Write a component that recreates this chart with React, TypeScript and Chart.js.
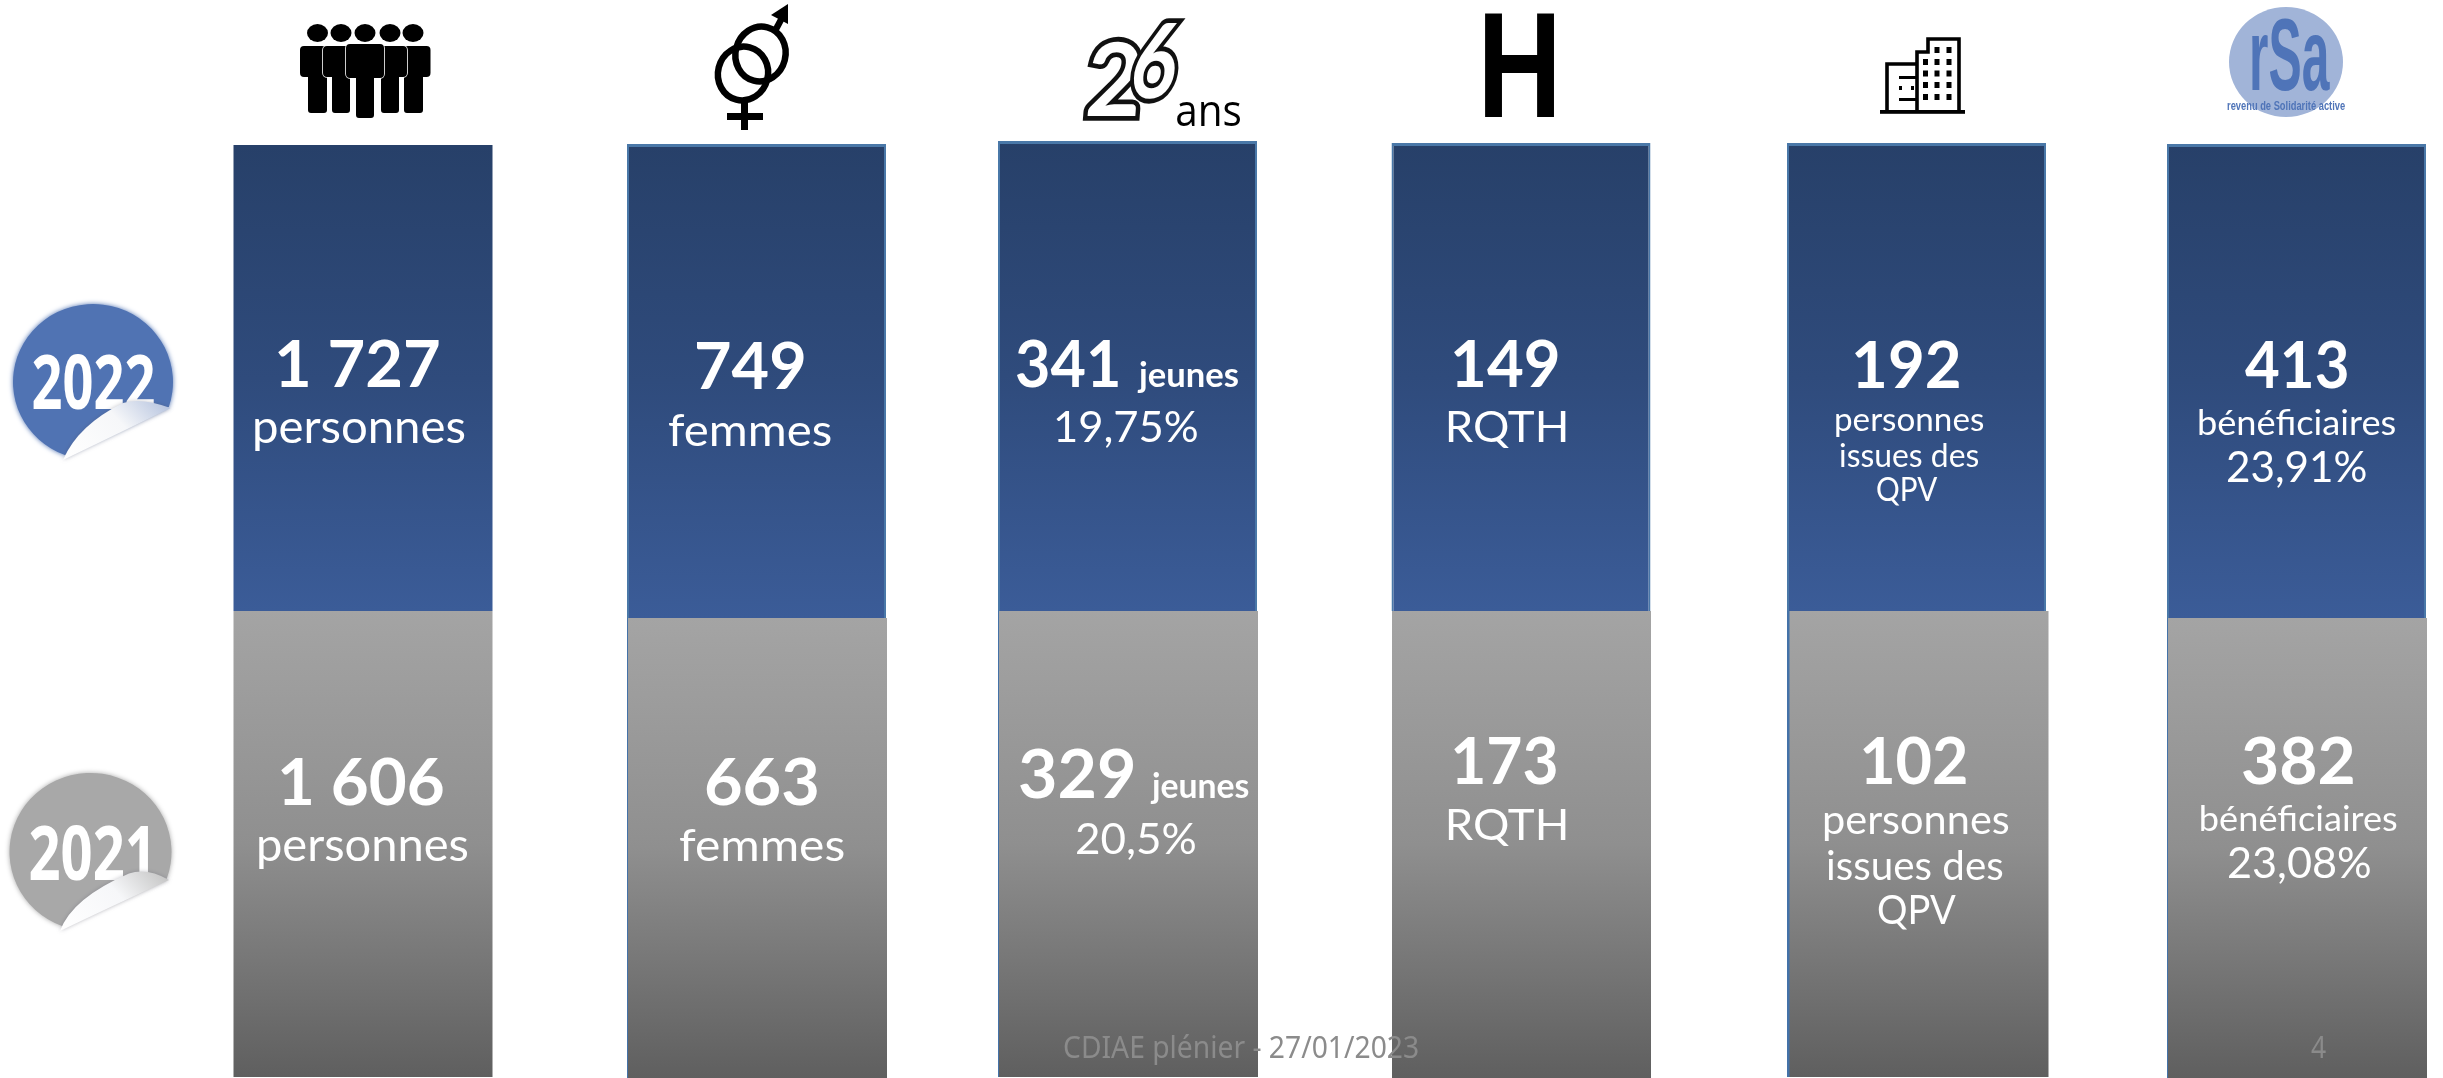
import React, { useEffect, useRef } from "react";
import { Chart, registerables } from "chart.js";

Chart.register(...registerables);

// ---------- data ----------
const categories = ["personnes", "femmes", "jeunes", "RQTH", "QPV", "rSa"];
const values2022 = [1727, 749, 341, 149, 192, 413];
const values2021 = [1606, 663, 329, 173, 102, 382];
const captions2022 = [
  ["personnes"],
  ["femmes"],
  ["jeunes", "19,75%"],
  ["RQTH"],
  ["personnes", "issues des", "QPV"],
  ["bénéficiaires", "23,91%"],
];
const captions2021 = [
  ["personnes"],
  ["femmes"],
  ["jeunes", "20,5%"],
  ["RQTH"],
  ["personnes", "issues des", "QPV"],
  ["bénéficiaires", "23,08%"],
];
// Position of each column and extent of each band, in axis units
const columns2022 = [363, 756.5, 1127.5, 1521, 1916.5, 2296.5];
const columns2021 = [363, 757.5, 1128.5, 1521.5, 1919, 2297.5];
const bandTop2022 = [145, 144, 141, 143, 143, 144];
const bandSplit = [611, 618, 611, 611, 611, 618];
const bandBottom = [1077, 1078, 1077, 1078, 1077, 1078];
const edgeVisible2022 = [false, true, true, true, true, true];
const edgeVisibleBelow = [false, true, true, false, true, true];

const BAR_WIDTH = 259;
const WIDTH = 2443;
const HEIGHT = 1078;
const LIGHT = 400;

// ---------- text layout: [inkLeft, inkRight, baseline, size, weight] ----------
const numberLayout2022 = [
  [278, 439, 387, 65], [697, 804, 389, 65], [1017, 1118, 387, 65],
  [1454, 1558, 387, 65], [1855, 1959, 388, 65], [2245, 2347, 388, 65],
];
const numberLayout2021 = [
  [281, 443, 805, 65], [706, 817, 805, 65], [1020, 1133, 798, 66],
  [1454, 1556, 784, 65], [1863, 1966, 784, 65], [2243, 2353, 784, 65],
];
const captionLayout2022 = [
  [[255, 465, 442.5, 46, LIGHT]],
  [[669, 831, 446, 44, LIGHT]],
  [[1137, 1238, 387, 34, 700], [1056, 1197, 442, 42, LIGHT]],
  [[1448, 1566, 442, 42, LIGHT]],
  [[1836, 1983, 431, 33, LIGHT], [1840, 1978, 466.5, 33, LIGHT], [1877, 1938, 501, 33, LIGHT]],
  [[2199, 2395, 434.5, 35, LIGHT], [2228, 2366, 482, 43, LIGHT]],
];
const captionLayout2021 = [
  [[259, 468, 861, 46, LIGHT]],
  [[680, 844, 861, 44, LIGHT]],
  [[1150, 1249, 798, 35, 700], [1076, 1195, 854, 42, LIGHT]],
  [[1448, 1566, 840, 42, LIGHT]],
  [[1824, 2009, 834, 41, LIGHT], [1828, 2003, 880, 41, LIGHT], [1878, 1956, 924, 41, LIGHT]],
  [[2201, 2397, 831, 34, LIGHT], [2228, 2370, 878, 42, LIGHT]],
];

const fmt = (n: number) => {
  const s = String(n);
  return s.length > 3 ? s.slice(0, s.length - 3) + " " + s.slice(-3) : s;
};

function fitText(ctx: any, text: string, left: number, right: number, base: number, font: string, color: string) {
  ctx.save();
  ctx.font = font;
  ctx.fillStyle = color;
  ctx.textAlign = "left";
  ctx.textBaseline = "alphabetic";
  const m = ctx.measureText(text);
  const ink = m.actualBoundingBoxLeft + m.actualBoundingBoxRight;
  const sx = (right - left) / ink;
  ctx.translate(left + m.actualBoundingBoxLeft * sx, base);
  ctx.scale(sx, 1);
  ctx.fillText(text, 0, 0);
  ctx.restore();
}

function sticker(ctx: any, o: any) {
  ctx.save();
  ctx.shadowColor = o.color;
  ctx.shadowBlur = 5;
  ctx.fillStyle = o.color;
  ctx.beginPath();
  ctx.ellipse(o.cx, o.cy, o.rx, o.ry, 0, o.a1, o.a2, true);
  ctx.closePath();
  ctx.fill();
  ctx.restore();
  fitText(ctx, o.year, o.tx0, o.tx1, o.tb, "700 75px 'Open Sans'", "#ffffff");
  const [p1, p2, p3, p4] = o.flap;
  const g = ctx.createLinearGradient(p2[0], p2[1], p1[0] - 25, p1[1] - 25);
  g.addColorStop(0, "#ffffff");
  g.addColorStop(0.6, "#f6f7f9");
  g.addColorStop(1, o.flapShade);
  ctx.save();
  ctx.shadowColor = "rgba(70,70,90,0.3)";
  ctx.shadowBlur = 4;
  ctx.fillStyle = g;
  ctx.beginPath();
  ctx.moveTo(p1[0], p1[1]);
  ctx.quadraticCurveTo(p3[0] + 18, p3[1] - 6, p3[0], p3[1]);
  ctx.quadraticCurveTo(p4[0] - 8, p4[1] + 5, p2[0], p2[1]);
  ctx.quadraticCurveTo(p2[0] + 50, p2[1] - 24, p1[0], p1[1]);
  ctx.closePath();
  ctx.fill();
  ctx.restore();
}

function peopleIcon(ctx: any) {
  ctx.save();
  ctx.fillStyle = "#000";
  const figure = (hx: number, hy: number, hr: number, t0: number, t1: number, ty: number, tb: number, l0: number, l1: number, lb: number) => {
    ctx.beginPath();
    ctx.ellipse(hx, hy, hr, 9, 0, 0, Math.PI * 2);
    ctx.fill();
    ctx.strokeStyle = "#fff";
    ctx.lineWidth = 1.6;
    ctx.beginPath();
    ctx.roundRect(t0, ty, t1 - t0, tb - ty, 4);
    ctx.roundRect(l0, tb - 6, l1 - l0, lb - tb + 6, 3);
    ctx.stroke();
    ctx.fill();
    ctx.beginPath();
    ctx.rect(l0 + 0.8, tb - 6, l1 - l0 - 1.6, 9);
    ctx.fill();
  };
  figure(317.5, 33, 10.5, 300, 326, 46, 77, 308, 327, 113);
  figure(413, 33, 10.5, 404, 430.5, 46, 77, 404, 423, 113);
  figure(341, 33, 10.5, 323, 351, 46, 77, 332, 350, 113);
  figure(390, 33, 10.5, 380, 407, 46, 77, 381, 399, 113);
  figure(365, 33, 10.5, 346, 384, 44, 78, 356, 374, 118);
  ctx.restore();
}

function genderIcon(ctx: any) {
  ctx.save();
  ctx.strokeStyle = "#000";
  ctx.fillStyle = "#000";
  ctx.lineWidth = 6.5;
  ctx.beginPath();
  ctx.ellipse(760.5, 54, 25, 27.5, 0.25, 0, Math.PI * 2);
  ctx.stroke();
  ctx.beginPath();
  ctx.ellipse(743, 73.5, 25, 27, 0.25, 0, Math.PI * 2);
  ctx.stroke();
  ctx.beginPath();
  ctx.moveTo(775, 31);
  ctx.lineTo(783, 16);
  ctx.stroke();
  ctx.beginPath();
  ctx.moveTo(788, 4);
  ctx.lineTo(788, 24);
  ctx.lineTo(771, 15);
  ctx.closePath();
  ctx.fill();
  ctx.fillRect(741, 100, 7, 30);
  ctx.fillRect(727, 113, 36, 7);
  ctx.restore();
}

function twentySixIcon(ctx: any) {
  ctx.save();
  ctx.lineJoin = "miter";
  ctx.font = "700 96px Lato";
  ctx.textBaseline = "alphabetic";
  ctx.strokeStyle = "#111";
  ctx.lineWidth = 9;
  ctx.fillStyle = "#fff";
  ctx.save();
  ctx.transform(1, 0, -0.08, 1.06, 1084, 116);
  ctx.strokeText("2", 0, 0);
  ctx.fillText("2", 0, 0);
  ctx.restore();
  ctx.save();
  ctx.transform(0.82, 0, -0.18, 1.08, 1127, 98);
  ctx.strokeText("6", 0, 0);
  ctx.fillText("6", 0, 0);
  ctx.restore();
  ctx.restore();
  fitText(ctx, "ans", 1177, 1240, 126, "400 44px 'Open Sans'", "#000");
}

function buildingIcon(ctx: any) {
  ctx.save();
  ctx.fillStyle = "#000";
  ctx.strokeStyle = "#000";
  ctx.lineWidth = 3.6;
  ctx.lineJoin = "miter";
  ctx.fillRect(1880, 110, 85, 3.8);
  ctx.beginPath();
  ctx.moveTo(1887, 110);
  ctx.lineTo(1887, 64);
  ctx.lineTo(1917, 64);
  ctx.moveTo(1917, 110);
  ctx.lineTo(1917, 52);
  ctx.lineTo(1928, 52);
  ctx.lineTo(1928, 39);
  ctx.lineTo(1959, 39);
  ctx.lineTo(1959, 110);
  ctx.stroke();
  const rows = [62, 73.5, 85, 97];
  const cols = [1925.5, 1937, 1949];
  rows.forEach((y) => cols.forEach((x) => ctx.fillRect(x - 2.5, y - 3, 5, 6)));
  [1937, 1949].forEach((x) => ctx.fillRect(x - 2.5, 47, 5, 6));
  ctx.fillRect(1899, 76, 18, 3);
  ctx.fillRect(1899, 98, 18, 3);
  ctx.fillRect(1899, 86, 3, 4);
  ctx.fillRect(1911, 86, 3, 4);
  ctx.restore();
}

function rsaIcon(ctx: any) {
  ctx.save();
  ctx.fillStyle = "#a1b4d8";
  ctx.beginPath();
  ctx.ellipse(2286, 62, 57, 55, 0, 0, Math.PI * 2);
  ctx.fill();
  ctx.restore();
  fitText(ctx, "rSa", 2252, 2330, 90, "700 102px 'Liberation Sans Narrow', 'Liberation Sans'", "#4f74b8");
  fitText(ctx, "revenu de Solidarité active", 2227, 2345, 110, "700 13px 'Liberation Sans Narrow', 'Liberation Sans'", "#4f74b8");
}

const annotationPlugin = {
  id: "slideText",
  afterDatasetsDraw(chart: any) {
    const ctx = chart.ctx;
    const WHITE = "#ffffff";
    const x = chart.scales.x;
    const y = chart.scales.y;
    const drawLine = (text: string, l: any) => {
      fitText(
        ctx,
        text,
        x.getPixelForValue(l[0]),
        x.getPixelForValue(l[1]),
        y.getPixelForValue(l[2]),
        `${l[4] ?? 700} ${l[3]}px Lato`,
        WHITE
      );
    };
    categories.forEach((_, i) => {
      drawLine(fmt(values2022[i]), numberLayout2022[i]);
      drawLine(fmt(values2021[i]), numberLayout2021[i]);
      captions2022[i].forEach((t, k) => drawLine(t, captionLayout2022[i][k]));
      captions2021[i].forEach((t, k) => drawLine(t, captionLayout2021[i][k]));
    });

    fitText(ctx, "CDIAE plénier - 27/01/2023", 1064, 1418, 1058, "400 30px 'Noto Sans'", "#8b8b8b");
    fitText(ctx, "4", 2311, 2326, 1058, "400 30px 'Noto Sans'", "#8b8b8b");

    sticker(ctx, {
      year: "2022", color: "#5073b3", cx: 93, cy: 382, rx: 80, ry: 78,
      a1: 0.325, a2: 1.93, tx0: 33, tx1: 154, tb: 409,
      flap: [[170.5, 408], [63, 460], [123, 403], [86, 420]], flapShade: "#b9c6e0",
    });
    sticker(ctx, {
      year: "2021", color: "#a8a8a8", cx: 90.5, cy: 852, rx: 81, ry: 79,
      a1: 0.345, a2: 1.93, tx0: 30, tx1: 148, tb: 880,
      flap: [[169, 880], [60, 931], [129, 873.5], [80, 893]], flapShade: "#c8c8c8",
    });

    peopleIcon(ctx);
    genderIcon(ctx);
    twentySixIcon(ctx);
    fitText(ctx, "H", 1485, 1554.5, 117, "700 150px 'Liberation Sans'", "#000");
    buildingIcon(ctx);
    rsaIcon(ctx);
  },
};

function bandGradient(stops: string[]) {
  return (c: any) => {
    const raw = c.raw;
    const yScale = c.chart.scales.y;
    const fallback = stops[stops.length - 1];
    if (!raw || !yScale) return fallback;
    const y0 = yScale.getPixelForValue(raw.y[0]);
    const y1 = yScale.getPixelForValue(raw.y[1]);
    if (!Number.isFinite(y0) || !Number.isFinite(y1)) return fallback;
    const g = c.chart.ctx.createLinearGradient(0, y0, 0, y1);
    stops.forEach((s, i) => g.addColorStop(i / (stops.length - 1), s));
    return g;
  };
}

export default function App() {
  const ref = useRef<HTMLCanvasElement | null>(null);
  useEffect(() => {
    if (!ref.current) return;
    const chart = new Chart(ref.current, {
      type: "bar",
      data: {
        datasets: [
          {
            label: "2021",
            grouped: false,
            barThickness: BAR_WIDTH,
            data: categories.map((_, i) => ({ x: columns2021[i], y: [bandSplit[i], bandBottom[i]] })),
            backgroundColor: bandGradient(["#a4a4a4", "#8f8f8f", "#5f5f5f"]),
            borderWidth: 0,
            borderSkipped: false,
            inflateAmount: 0,
          },
          {
            label: "2022",
            grouped: false,
            barThickness: BAR_WIDTH,
            data: categories.map((_, i) => ({ x: columns2022[i], y: [bandTop2022[i], bandSplit[i]] })),
            backgroundColor: bandGradient(["#274069", "#2f4b7c", "#3b5c98"]),
            borderColor: "#4a78a8",
            borderWidth: (c: any) => (edgeVisible2022[c.dataIndex] ? { top: 3, left: 2, right: 2, bottom: 0 } : 0),
            borderSkipped: false,
            inflateAmount: 0,
          },
          {
            label: "rim",
            grouped: false,
            barThickness: BAR_WIDTH,
            data: categories.map((_, i) => ({ x: columns2022[i], y: [bandSplit[i], bandBottom[i]] })),
            backgroundColor: (c: any) => (edgeVisibleBelow[c.dataIndex] ? "#4472a8" : "rgba(0,0,0,0)"),
            borderWidth: 0,
            borderSkipped: false,
            inflateAmount: 0,
          },
        ],
      },
      options: {
        animation: false,
        responsive: false,
        maintainAspectRatio: false,
        devicePixelRatio: 1,
        layout: { padding: 0 },
        plugins: { legend: { display: false }, tooltip: { enabled: false }, title: { display: false } },
        scales: {
          x: { type: "linear", min: 0, max: WIDTH, offset: false, display: false },
          y: { type: "linear", min: 0, max: HEIGHT, reverse: true, display: false },
        },
      },
      plugins: [annotationPlugin],
    } as any);
    return () => chart.destroy();
  }, []);
  return (
    <div style={{ position: "absolute", left: 0, top: 0, width: WIDTH, height: HEIGHT, background: "#fff", overflow: "hidden" }}>
      <canvas ref={ref} width={WIDTH} height={HEIGHT} style={{ display: "block" }} />
    </div>
  );
}
